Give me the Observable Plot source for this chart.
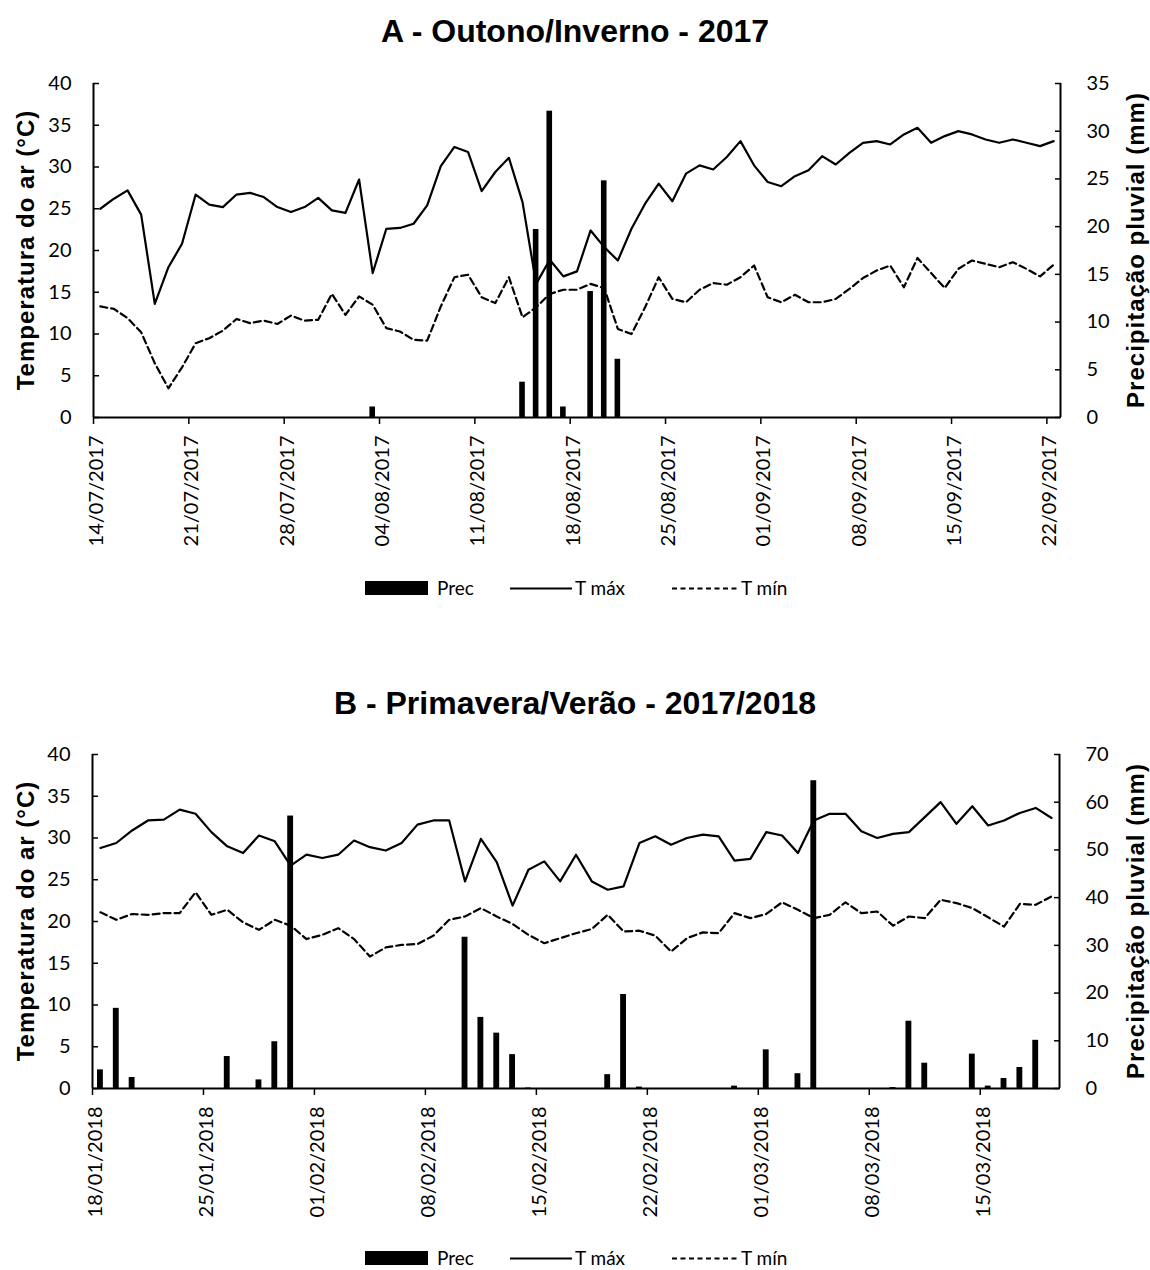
<!DOCTYPE html>
<html>
<head>
<meta charset="utf-8">
<script src="https://cdn.jsdelivr.net/npm/d3@7"></script>
<script src="https://cdn.jsdelivr.net/npm/@observablehq/plot@0.6"></script>
<style>
  html, body { margin: 0; padding: 0; background: #fff; }
  #page { position: relative; width: 1150px; height: 1270px; background: #fff; overflow: hidden; color: #000; }
  .title { position: absolute; left: 0; width: 1150px; text-align: center; font-family: "Liberation Sans", Arial, sans-serif; font-weight: bold; font-size: 32px; line-height: 32px; }
  .axtitle { position: absolute; white-space: nowrap; font-family: "Liberation Sans", Arial, sans-serif; font-weight: bold; font-size: 24px; line-height: 24px; letter-spacing: 1px; transform: translate(-50%, -50%) rotate(-90deg); }
  .plotwrap { position: absolute; left: 0; }
  .legend { position: absolute; left: 0; }
</style>
</head>
<body>
<div id="page"></div>
<script>
// ---------- Panel A data : 14/07/2017 .. 22/09/2017 (daily) ----------
const startA = "2017-07-14";
const endA = "2017-09-23";
const tmaxA = [25.0,26.2,27.2,24.3,13.6,18.0,20.8,26.7,25.5,25.2,26.7,26.9,26.4,25.2,24.6,25.2,26.3,24.8,24.5,28.5,
  17.3,22.6,22.7,23.2,25.4,30.1,32.4,31.8,27.1,29.4,31.1,25.8,16.0,18.9,16.9,17.5,22.4,20.4,18.8,22.6,
  25.6,28.0,25.9,29.2,30.2,29.7,31.2,33.1,30.2,28.2,27.7,28.9,29.6,31.3,30.3,31.7,32.9,33.1,32.7,33.9,
  34.7,32.9,33.7,34.3,33.9,33.3,32.9,33.3,32.9,32.5,33.1];
const tminA = [13.3,13.0,11.9,10.2,6.5,3.5,6.0,8.9,9.5,10.4,11.8,11.3,11.6,11.2,12.2,11.6,11.7,14.8,12.3,14.5,
  13.5,10.7,10.3,9.3,9.2,13.3,16.8,17.1,14.4,13.7,16.8,12.0,13.2,14.8,15.3,15.3,16.0,15.5,10.6,10.0,
  13.2,16.8,14.2,13.8,15.3,16.1,15.9,16.8,18.2,14.4,13.8,14.7,13.8,13.8,14.2,15.4,16.7,17.6,18.2,15.6,
  19.1,17.3,15.5,17.8,18.8,18.4,18.0,18.6,17.8,16.9,18.3];
const precDatesA = ["2017-08-03","2017-08-14","2017-08-15","2017-08-16","2017-08-17","2017-08-19","2017-08-20","2017-08-21"];
const precValsA = [1.1,3.7,19.7,32.1,1.1,13.2,24.8,6.1];
const tickLabelsA = ["14/07/2017","21/07/2017","28/07/2017","04/08/2017","11/08/2017","18/08/2017","25/08/2017","01/09/2017","08/09/2017","15/09/2017","22/09/2017"];

// ---------- Panel B data : 18/01/2018 .. 19/03/2018 (daily) ----------
const startB = "2018-01-18";
const endB = "2018-03-20";
const tmaxB = [28.8,29.4,30.9,32.1,32.2,33.4,32.9,30.7,29.0,28.2,30.3,29.6,26.7,28.0,27.6,28.0,29.7,28.9,28.5,29.4,
  31.6,32.1,32.1,24.8,29.9,27.1,21.9,26.2,27.2,24.8,28.0,24.8,23.8,24.2,29.4,30.2,29.2,30.0,30.4,30.2,
  27.3,27.5,30.7,30.3,28.2,32.1,32.9,32.9,30.8,30.0,30.5,30.7,32.5,34.3,31.7,33.8,31.5,32.1,33.0,33.6,32.4];
const tminB = [21.1,20.2,20.9,20.8,21.0,21.0,23.5,20.8,21.4,19.9,19.0,20.2,19.5,17.9,18.4,19.2,17.9,15.8,16.9,17.2,
  17.3,18.3,20.2,20.6,21.6,20.6,19.7,18.4,17.4,18.0,18.6,19.1,20.8,18.8,18.9,18.3,16.4,18.0,18.7,18.6,
  21.0,20.4,20.9,22.3,21.4,20.4,20.8,22.3,21.0,21.2,19.5,20.6,20.4,22.6,22.2,21.6,20.5,19.4,22.1,22.0,23.0];
const precDatesB = ["2018-01-18","2018-01-19","2018-01-20","2018-01-26","2018-01-28","2018-01-29","2018-01-30",
  "2018-02-10","2018-02-11","2018-02-12","2018-02-13","2018-02-14","2018-02-19","2018-02-20","2018-02-21",
  "2018-02-27","2018-03-01","2018-03-03","2018-03-04","2018-03-09","2018-03-10","2018-03-11",
  "2018-03-14","2018-03-15","2018-03-16","2018-03-17","2018-03-18"];
const precValsB = [3.9,16.8,2.3,6.7,1.8,9.8,57.1,
  31.7,14.9,11.6,7.1,0.1,2.9,19.7,0.3,
  0.5,8.1,3.1,64.5,0.2,14.1,5.3,
  7.2,0.5,2.1,4.4,10.1];
const tickLabelsB = ["18/01/2018","25/01/2018","01/02/2018","08/02/2018","15/02/2018","22/02/2018","01/03/2018","08/03/2018","15/03/2018"];

const titles = ["A - Outono/Inverno - 2017", "B - Primavera/Verão - 2017/2018"];
const yTitleLeft = "Temperatura do ar (°C)";
const yTitleRight = "Precipitação pluvial (mm)";
const legendLabels = ["Prec", "T máx", "T mín"];

// ---------- helpers ----------
const parseISO = d3.utcParse("%Y-%m-%d");
const parseLabel = d3.utcParse("%d/%m/%Y");
const fmt = d3.utcFormat("%d/%m/%Y");

function panel(opts) {
  const start = parseISO(opts.start), end = parseISO(opts.end);
  const dates = d3.utcDay.range(start, end);
  const k = 40 / opts.pmax;
  const rows = dates.map((d, i) => ({mid: d3.utcHour.offset(d, 12), tmax: opts.tmax[i], tmin: opts.tmin[i]}));
  const bars = opts.precDates.map((s, i) => ({x1: parseISO(s), x2: d3.utcDay.offset(parseISO(s), 1), p: opts.precVals[i] * k}));
  const ticks = opts.tickLabels.map(parseLabel);
  return Plot.plot({
    width: 1150, height: 480,
    marginLeft: opts.ml, marginRight: 1150 - opts.mr, marginTop: 13, marginBottom: 133,
    x: {type: "utc", domain: [start, end]},
    y: {domain: [0, 40]},
    style: {fontFamily: "Lato, 'Open Sans', sans-serif", fontSize: "20px", color: "#000", background: "#fff", overflow: "visible"},
    marks: [
      Plot.rectY(bars, {x1: "x1", x2: "x2", y: "p", fill: "#000", insetLeft: opts.inset, insetRight: opts.inset}),
      Plot.lineY(rows, {x: "mid", y: "tmax", stroke: "#000", strokeWidth: 2.2}),
      Plot.lineY(rows, {x: "mid", y: "tmin", stroke: "#000", strokeWidth: 2.2, strokeDasharray: "7,4"}),
      Plot.axisY({anchor: "left", ticks: d3.range(0, 41, 5), tickFormat: d => d, tickSize: -6, tickPadding: 28, strokeWidth: 1.5, label: null}),
      Plot.axisY({anchor: "right", ticks: d3.range(0, opts.pmax + 1, opts.pstep).map(v => v * k), tickFormat: v => Math.round(v / k), tickSize: -6, tickPadding: 32, strokeWidth: 1.5, label: null}),
      Plot.axisX({ticks: ticks, tickSize: 7, text: null, strokeWidth: 1.5, label: null}),
      Plot.axisX({ticks: ticks, tickFormat: fmt, tickRotate: -90, tickSize: 0, tickPadding: 18, dx: 3, label: null}),
      Plot.ruleY([0], {stroke: "#000", strokeWidth: 2}),
      Plot.ruleX([start, end], {stroke: "#000", strokeWidth: 2})
    ]
  });
}

function legend(top) {
  const div = document.createElement("div");
  div.className = "legend";
  div.style.top = (top - 20) + "px";
  div.innerHTML = `<svg width="1150" height="40" style="font-family:Lato,'Open Sans',sans-serif;font-size:19px">
    <rect x="365" y="13" width="63" height="14" fill="#000"></rect>
    <text x="437" y="27">${legendLabels[0]}</text>
    <line x1="510" x2="572" y1="20.5" y2="20.5" stroke="#000" stroke-width="2"></line>
    <text x="575" y="27">${legendLabels[1]}</text>
    <line x1="672" x2="737" y1="20.5" y2="20.5" stroke="#000" stroke-width="2" stroke-dasharray="5,3.5"></line>
    <text x="741" y="27">${legendLabels[2]}</text>
  </svg>`;
  return div;
}

function addText(cls, text, css) {
  const d = document.createElement("div");
  d.className = cls;
  d.textContent = text;
  Object.assign(d.style, css);
  page.appendChild(d);
}

const page = document.getElementById("page");

// Panel A
addText("title", titles[0], {top: "15px"});
const wA = document.createElement("div"); wA.className = "plotwrap"; wA.style.top = "70px";
wA.appendChild(panel({start: startA, end: endA, tmax: tmaxA, tmin: tminA, precDates: precDatesA, precVals: precValsA,
  tickLabels: tickLabelsA, pmax: 35, pstep: 5, ml: 93, mr: 1060, inset: 4}));
page.appendChild(wA);
addText("axtitle", yTitleLeft, {left: "26px", top: "250px"});
addText("axtitle", yTitleRight, {left: "1136px", top: "250px"});
page.appendChild(legend(588));

// Panel B
addText("title", titles[1], {top: "687px"});
const wB = document.createElement("div"); wB.className = "plotwrap"; wB.style.top = "741px";
wB.appendChild(panel({start: startB, end: endB, tmax: tmaxB, tmin: tminB, precDates: precDatesB, precVals: precValsB,
  tickLabels: tickLabelsB, pmax: 70, pstep: 10, ml: 92, mr: 1059, inset: 5}));
page.appendChild(wB);
addText("axtitle", yTitleLeft, {left: "26px", top: "921px"});
addText("axtitle", yTitleRight, {left: "1136px", top: "921px"});
page.appendChild(legend(1258));
</script>
</body>
</html>
